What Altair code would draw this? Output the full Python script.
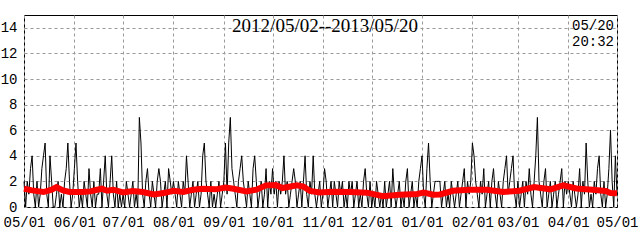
import altair as alt
import pandas as pd

# ---- daily counts, 2012-05-01 .. 2013-05-01 ----
may12 = [2,0,2,1,3,4,1,0,2,0,1,3,4,5,1,0,4,2,0,0,1,2,0,1,0,2,3,5,2,0,1]
jun12 = [3,5,2,0,1,0,2,1,0,3,1,0,2,0,1,1,3,0,2,4,1,0,2,4,1,0,2,0,1,0]
jul12 = [1,0,2,1,0,1,2,0,1,0,7,5,1,0,2,3,1,0,2,1,0,2,3,2,0,1,2,0,3,2,1]
aug12 = [2,1,0,2,1,0,2,1,4,2,0,1,2,0,1,2,0,1,4,5,2,1,0,2,0,1,0,1,2,0,1]
sep12 = [2,5,1,5,7,3,2,1,0,2,3,4,2,1,0,2,1,0,3,4,2,0,1,2,0,1,3,0,2,1]
oct12 = [3,1,2,0,2,1,2,4,1,2,0,1,2,3,2,0,1,2,0,2,4,1,0,2,1,4,1,0,1,2,0]
nov12 = [1,3,2,0,1,2,0,2,1,0,2,1,2,0,1,0,2,1,2,0,1,2,0,1,0,2,3,1,0,2]
dec12 = [0,1,0,2,1,0,1,0,2,0,1,2,0,3,1,0,1,2,0,1,0,2,3,0,1,2,0,1,0,2,3]
jan13 = [4,1,0,3,5,2,0,1,2,2,2,2,0,1,2,0,1,0,2,1,0,1,2,0,1,2,3,0,2,1,2]
feb13 = [5,4,2,1,0,2,1,3,0,1,2,0,2,3,1,0,2,1,0,2,3,4,1,2,3,4,1,0]
mar13 = [2,0,1,2,0,2,1,3,1,0,2,4,7,2,1,0,2,3,0,1,2,0,1,2,0,1,2,3,0,2,1]
apr13 = [2,1,0,2,1,0,1,3,0,2,1,5,2,0,1,0,2,1,3,4,1,0,2,0,1,3,6,2,0,4]
may13 = [1]

daily_counts = (may12 + jun12 + jul12 + aug12 + sep12 + oct12 + nov12 +
                dec12 + jan13 + feb13 + mar13 + apr13 + may13)

start_date = "2012-05-01"

# ---- smoothed (red) line: day offset -> value ----
avg_days = [0, 5, 12, 17, 20, 24, 28, 36, 41, 45, 48, 51, 55, 61, 67, 73, 80, 86,
            92, 98, 104, 110, 118, 124, 129, 137, 143, 149, 155, 159, 168, 172,
            176, 182, 190, 201, 211, 221, 231, 242, 246, 252, 256, 264, 274, 285,
            295, 305, 314, 324, 332, 340, 350, 358, 361, 365]
avg_values = [1.43, 1.30, 1.17, 1.35, 1.56, 1.30, 1.17, 1.17, 1.22, 1.35, 1.43,
              1.27, 1.35, 1.14, 1.25, 1.17, 0.98, 1.09, 1.27, 1.17, 1.35, 1.43,
              1.38, 1.52, 1.43, 1.22, 1.35, 1.69, 1.72, 1.48, 1.70, 1.60, 1.25,
              1.14, 1.20, 1.17, 1.12, 0.85, 0.96, 1.02, 1.12, 0.96, 0.98, 1.27,
              1.35, 1.35, 1.17, 1.27, 1.56, 1.38, 1.69, 1.45, 1.35, 1.25, 1.09, 1.07]

tick_months = [(2012, 5), (2012, 6), (2012, 7), (2012, 8), (2012, 9), (2012, 10),
               (2012, 11), (2012, 12), (2013, 1), (2013, 2), (2013, 3), (2013, 4),
               (2013, 5)]
y_ticks = [0, 2, 4, 6, 8, 10, 12, 14]

title_text = "2012/05/02--2013/05/20"
stamp_lines = ["05/20", "20:32"]

# ---- tables ----
t0 = pd.Timestamp(start_date)
daily = pd.DataFrame({
    "date": pd.date_range(t0, periods=len(daily_counts), freq="D").strftime("%Y-%m-%d"),
    "count": daily_counts,
})
avg = pd.DataFrame({
    "date": (t0 + pd.to_timedelta(avg_days, unit="D")).strftime("%Y-%m-%d"),
    "value": avg_values,
})

tick_vals = [alt.DateTime(year=y, month=m, date=1, utc=True) for y, m in tick_months]
x_scale = alt.Scale(type="utc", domain=[tick_vals[0], tick_vals[-1]], nice=False)
y_scale = alt.Scale(domain=[0, 15], nice=False)

x_axis = alt.Axis(values=tick_vals, labelExpr="utcFormat(datum.value, '%m/%d')",
                  title=None, labelOverlap=False, labelFlush=False, labelPadding=8,
                  ticks=False, domain=False)
y_axis = alt.Axis(values=y_ticks, title=None, ticks=False, domain=False,
                  labelPadding=7)

black = alt.Chart(daily).mark_line(color="black", strokeWidth=1).encode(
    x=alt.X("date:T", scale=x_scale, axis=x_axis),
    y=alt.Y("count:Q", scale=y_scale, axis=y_axis),
)
red = alt.Chart(avg).mark_line(color="#ff0000", strokeWidth=6).encode(
    x=alt.X("date:T", scale=x_scale, axis=x_axis),
    y=alt.Y("value:Q", scale=y_scale, axis=y_axis),
)

title_mark = alt.Chart(pd.DataFrame({"t": [title_text]})).mark_text(
    font="Liberation Serif", fontSize=19, color="black", align="center",
    baseline="alphabetic"
).encode(x=alt.value(301), y=alt.value(17), text="t:N")

stamp1 = alt.Chart(pd.DataFrame({"t": [stamp_lines[0]]})).mark_text(
    font="Liberation Mono", fontSize=14, color="black", align="right",
    baseline="alphabetic"
).encode(x=alt.value(590), y=alt.value(15), text="t:N")
stamp2 = alt.Chart(pd.DataFrame({"t": [stamp_lines[1]]})).mark_text(
    font="Liberation Mono", fontSize=14, color="black", align="right",
    baseline="alphabetic"
).encode(x=alt.value(590), y=alt.value(31), text="t:N")

chart = alt.layer(black, red, title_mark, stamp1, stamp2).properties(
    width=593, height=192,
    autosize=alt.AutoSizeParams(type="none"),
    padding={"left": 24, "top": 15, "right": 23, "bottom": 33},
    background="white",
).configure_view(
    stroke="black", strokeWidth=1
).configure_axis(
    grid=True, gridColor="#999999", gridDash=[3, 3], gridWidth=1,
    labelFont="Liberation Mono", labelFontSize=14, labelColor="black",
)

chart.save("out.html", embed_options={"renderer": "svg", "actions": False})
